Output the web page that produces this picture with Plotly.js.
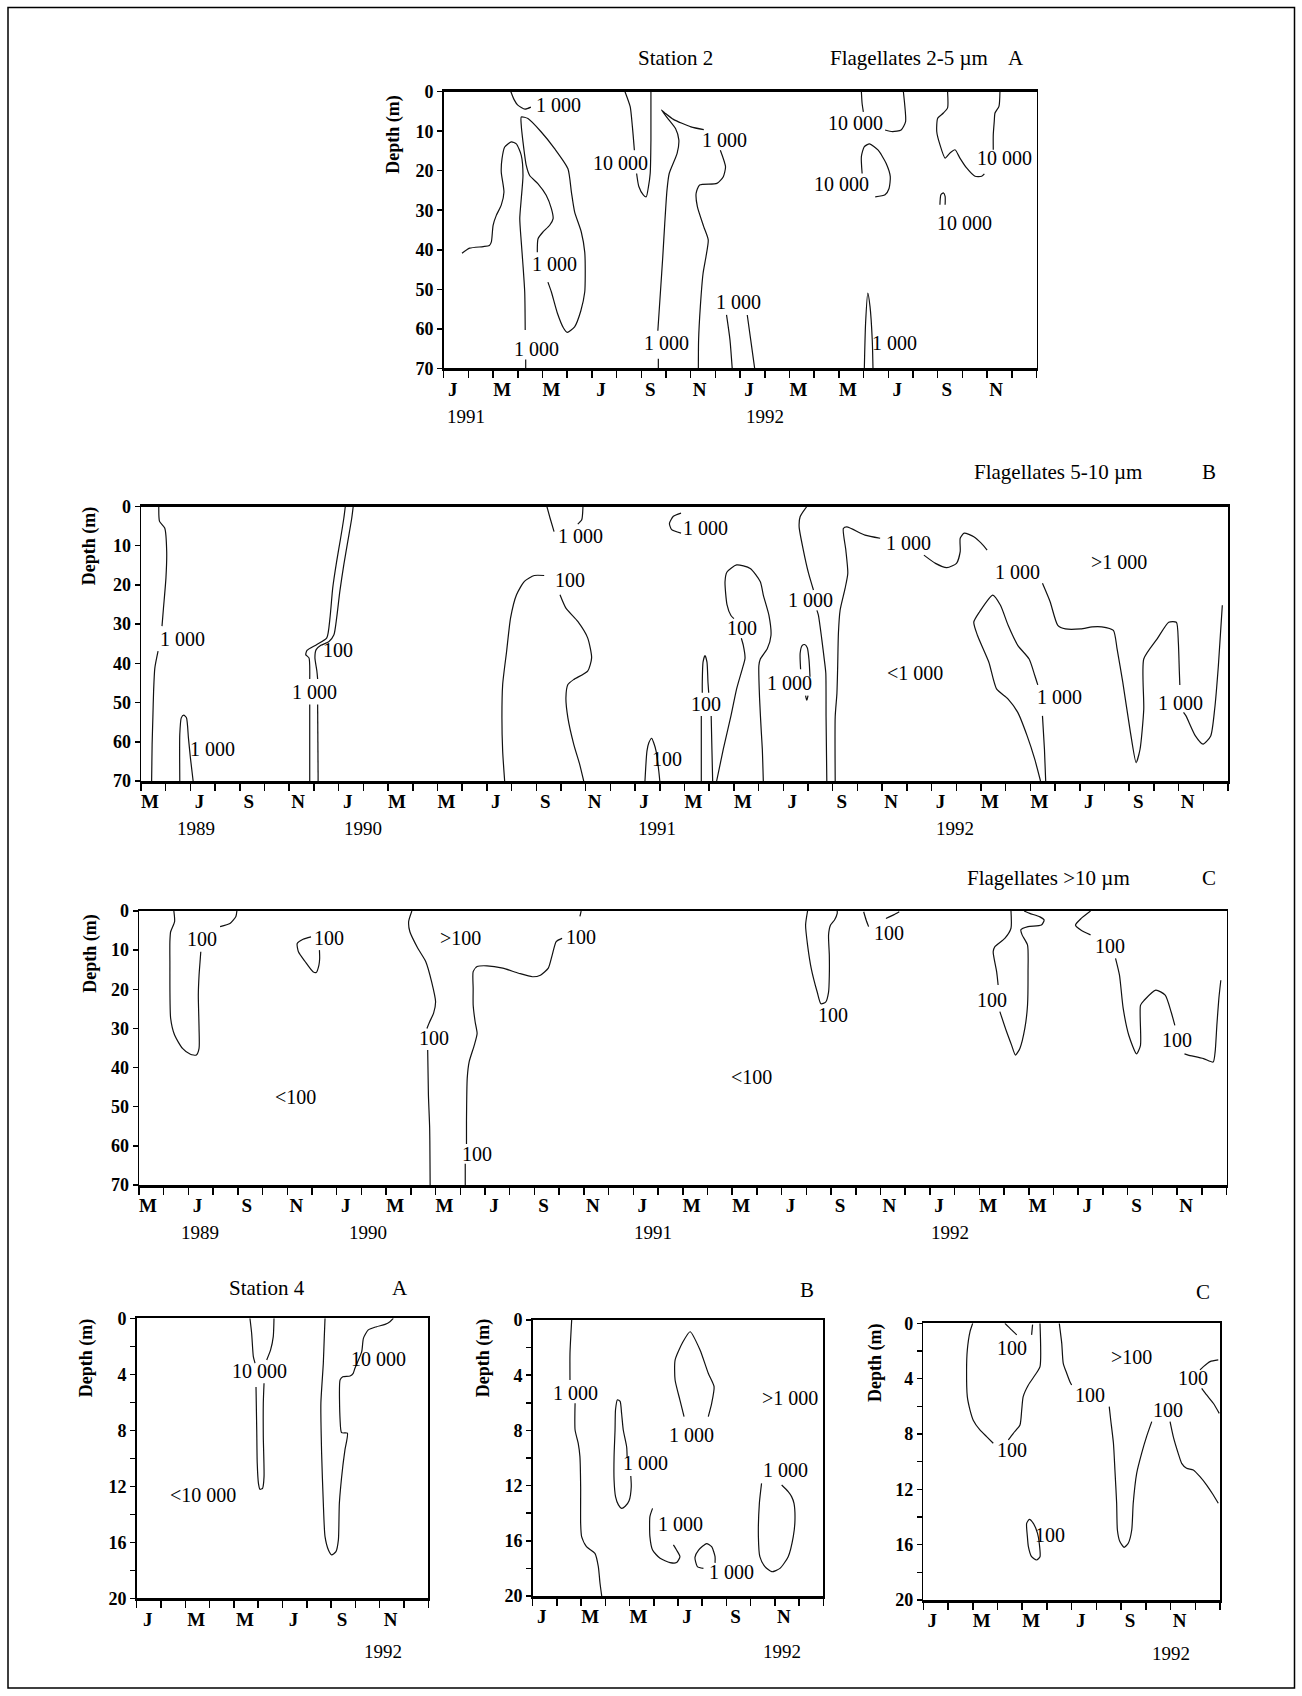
<!DOCTYPE html>
<html><head><meta charset="utf-8">
<script src="https://cdn.plot.ly/plotly-3.0.1.min.js"></script>
<style>html,body{margin:0;padding:0;background:#fff}#chart{width:1302px;height:1696px}</style>
</head><body><div id="chart"></div>
<script>
const FONT = '"Liberation Serif", "Times New Roman", Times, serif';

// ---------- tick labels ----------
const monthsA  = ['J','M','M','J','S','N','J','M','M','J','S','N'];               // Jan 1991 - Dec 1992
const monthsBC = ['M','J','S','N','J','M','M','J','S','N','J','M','M','J','S','N','J','M','M','J','S','N']; // May 1989 - Dec 1992
const months4  = ['J','M','M','J','S','N'];                                        // 1992
const depth70  = [0,10,20,30,40,50,60,70];
const depth20  = [0,2,4,6,8,10,12,14,16,18,20];
const depth20Text = ['0','','4','','8','','12','','16','','20'];

// year labels [month position, text]
const yearsA  = [[0.9,'1991'],[13.0,'1992']];
const yearsB  = [[2.24,'1989'],[8.97,'1990'],[20.9,'1991'],[32.94,'1992']];
const yearsC  = [[2.48,'1989'],[9.28,'1990'],[20.8,'1991'],[32.8,'1992']];
const years4A = [[10.15,'1992']];
const years4B = [[10.3,'1992']];
const years4C = [[10.0,'1992']];

// ---------- Station 2, flagellates 2-5 um (x: months from Jan 1991, y: depth m) ----------
const st2A_lines = [
 [[2.72,0],[2.85,2.0],[3.0,3.4],[3.29,4.4],[3.53,3.9]],
 [[0.74,40.9],[1.05,39.6],[1.6,39.2],[1.85,38.9],[1.93,38.0],[2.0,33.8],[2.13,31.3],[2.33,28.7],[2.44,25.4],[2.33,20.3],[2.36,17.0],[2.47,14.0],[2.74,12.7],[2.94,13.2],[3.14,16.1],[3.21,21.2],[3.14,27.1],[3.08,32.1],[3.14,38.0],[3.21,43.9],[3.28,50.7],[3.30,60.3]],
 [[3.32,67.8],[3.32,70]],
 [[3.79,40.6],[3.82,37.2],[4.02,35.5],[4.29,33.8],[4.43,32.1],[4.36,29.6],[4.15,26.2],[3.82,23.3],[3.48,21.2],[3.34,18.6],[3.21,12.7],[3.14,8.5],[3.14,6.4],[3.41,6.8],[3.95,10.2],[4.49,14.4],[5.03,19.5],[5.17,25.4],[5.30,30.4],[5.57,35.5],[5.71,40.6],[5.73,46.5],[5.71,50.7],[5.55,55.5],[5.3,59.5],[5.0,60.9],[4.85,59.8],[4.6,56.0],[4.36,50.7],[4.22,48.2]],
 [[7.34,0],[7.55,3.8],[7.64,8.9],[7.72,14.8]],
 [[8.39,0],[8.39,12.2],[8.36,20.7],[8.29,24.0],[8.2,26.6],[8.08,26.1],[7.9,24.0],[7.81,20.7]],
 [[8.69,70],[8.69,67.6]],
 [[8.67,60.5],[8.69,58.6],[8.78,50.2],[8.87,41.7],[8.95,33.3],[9.04,24.9],[9.13,20.7],[9.45,15.6],[9.52,12.2],[9.39,9.4],[9.1,7.0],[8.81,4.6],[9.0,5.6],[9.30,7.0],[10.01,8.9],[10.53,9.6]],
 [[11.2,14.8],[11.41,19.0],[11.32,21.5],[11.06,23.2],[10.36,23.6],[10.22,25.7],[10.27,29.1],[10.53,34.2],[10.71,37.5],[10.62,41.7],[10.5,46.0],[10.39,54.4],[10.32,62.8],[10.31,70]],
 [[11.45,56.5],[11.59,62.8],[11.68,70]],
 [[12.29,56.5],[12.43,62.8],[12.59,70]],
 [[17.03,70],[17.08,58.6],[17.17,51.0],[17.26,54.4],[17.35,62.8],[17.38,70]],
 [[16.91,0],[16.94,3.0],[16.99,5.1]],
 [[17.87,9.7],[18.17,10.1],[18.52,9.7],[18.7,7.6],[18.66,3.0],[18.61,0]],
 [[16.94,20.7],[16.91,16.4],[17.03,13.9],[17.24,13.2],[17.59,14.8],[17.91,18.1],[18.08,21.5],[18.03,24.5],[17.87,26.1],[17.47,26.6]],
 [[20.4,0],[20.4,4.1],[20.23,5.4],[20.0,6.7],[19.96,10.0],[20.09,13.4],[20.3,16.8],[20.5,15.5],[20.7,14.7],[20.9,16.8],[21.17,19.3],[21.51,21.4],[21.78,21.4],[21.89,20.8]],
 [[22.52,0],[22.48,3.7],[22.32,5.4],[22.29,7.5],[22.25,10.9],[22.25,14.7]],
 [[20.09,28.6],[20.13,26.1],[20.23,25.6],[20.3,26.5],[20.3,28.6]]
];
const st2A_labels = [
 [4.63,3.4,'1 000'],[3.77,65.2,'1 000'],[4.49,43.5,'1 000'],[7.16,18.0,'10 000'],
 [9.04,63.5,'1 000'],[11.36,12.2,'1 000'],[11.94,53.1,'1 000'],[18.26,63.5,'1 000'],
 [16.68,7.8,'10 000'],[16.12,23.4,'10 000'],[22.72,16.8,'10 000'],[21.1,33.3,'10 000']
];

// ---------- Station 2, flagellates 5-10 um (x: months from May 1989) ----------
const st2B_lines = [
 [[0.72,0],[0.75,3.8],[0.96,5.5],[1.04,11.5],[1.01,18.2],[0.91,25.9],[0.85,30.5]],
 [[0.69,36.9],[0.56,41.2],[0.51,47.1],[0.48,53.9],[0.45,60.7],[0.43,70]],
 [[1.57,70],[1.57,58.1],[1.63,53.9],[1.73,53.2],[1.84,53.9],[1.92,59.0],[2.0,64.1],[2.11,70]],
 [[8.27,0],[8.21,3.0],[8.08,8.1],[7.92,14.0],[7.76,20.8],[7.65,28.4],[7.52,33.5],[7.12,35.2],[6.72,36.7],[6.67,37.8],[6.8,38.6],[6.83,44.0]],
 [[6.83,50.5],[6.83,70]],
 [[8.59,0],[8.53,3.0],[8.37,8.9],[8.21,14.8],[8.05,21.6],[7.92,28.4],[7.81,32.7],[7.6,34.5],[7.28,35.4],[7.09,36.5],[7.04,38.6],[7.12,42.0],[7.15,44.0]],
 [[7.15,50.5],[7.17,70]],
 [[14.72,70],[14.64,62.4],[14.61,53.9],[14.64,45.4],[14.8,36.9],[14.96,28.4],[15.2,22.5],[15.52,19.1],[15.92,17.6],[16.32,17.6]],
 [[16.96,22.5],[17.2,25.9],[17.68,29.3],[18.08,33.5],[18.24,38.6],[18.08,42.0],[17.52,44.1],[17.28,45.4],[17.2,48.8],[17.28,53.9],[17.52,60.7],[17.76,65.8],[17.92,70]],
 [[16.43,0],[16.56,3.0],[16.72,6.4]],
 [[17.89,0],[17.84,3.4],[17.68,4.5]],
 [[21.86,1.7],[21.55,2.5],[21.39,4.3],[21.48,5.9],[21.86,6.8]],
 [[20.4,70],[20.48,62.4],[20.56,60.2],[20.67,59.1],[20.75,60.2],[20.85,62.4],[20.96,67.5],[21.0,70]],
 [[22.68,70],[22.68,53.4]],
 [[22.72,47.5],[22.72,44.8],[22.75,39.7],[22.83,38.0],[22.91,39.7],[22.95,44.8],[22.98,47.5]],
 [[23.08,53.4],[23.11,61.9],[23.14,70]],
 [[23.3,70],[23.57,61.9],[23.88,53.4],[24.11,46.5],[24.34,41.4],[24.45,38.7],[24.38,35.4],[24.3,33.6]],
 [[24.0,28.6],[23.88,27.8],[23.72,25.0],[23.64,19.2],[23.72,16.7],[24.11,14.9],[24.66,15.8],[25.07,19.2],[25.19,22.6],[25.42,27.8],[25.5,32.9],[25.35,36.3],[25.07,38.9],[25.01,40.6],[25.04,49.1],[25.11,57.6],[25.15,61.9],[25.19,70]],
 [[26.95,0],[26.68,2.6],[26.64,5.2],[26.81,11.1],[27.02,17.0],[27.22,21.3]],
 [[27.36,26.5],[27.42,27.7],[27.56,34.0],[27.66,39.1],[27.72,42.5],[27.73,53.6],[27.76,70]],
 [[28.1,70],[28.1,53.6],[28.17,47.6],[28.2,40.9],[28.23,32.3],[28.3,26.4],[28.5,20.9],[28.61,17.0],[28.53,11.1],[28.43,5.6],[28.57,5.2],[29.31,7.3],[29.92,8.1]],
 [[31.69,12.4],[32.16,14.5],[32.62,15.6],[33.01,14.5],[33.16,11.5],[33.16,8.1],[33.32,6.8],[33.71,7.7],[34.02,9.4],[34.25,11.1]],
 [[36.49,19.6],[36.8,24.3],[37.11,30.3],[37.42,31.2],[38.04,31.2],[38.5,30.7],[38.89,30.7],[39.36,31.6],[39.51,36.3],[39.74,44.8],[40.05,57.6],[40.28,65.3],[40.44,61.9],[40.59,51.7],[40.59,38.9],[41.14,33.7],[41.6,29.5],[41.91,29.5],[41.99,34.6],[42.03,42.0],[42.05,45.5]],
 [[42.2,52.5],[42.3,53.4],[42.68,58.5],[42.99,60.6],[43.3,58.5],[43.46,51.7],[43.61,40.6],[43.77,25.2]],
 [[36.41,70],[36.18,64.5],[35.87,58.5],[35.49,52.5],[35.1,49.1],[34.63,46.5],[34.32,39.7],[33.86,32.9],[33.71,29.5],[33.94,26.9],[34.48,22.6],[34.79,25.2],[35.1,30.3],[35.49,35.4],[35.95,38.9],[36.18,43.1],[36.3,45.5]],
 [[36.49,53.4],[36.57,61.9],[36.62,70]],
 [[26.7,41.5],[26.68,37.5],[26.76,35.5],[26.86,35.2],[26.97,36.0],[27.04,39.1],[27.08,43.4]],
 [[26.9,48.2],[26.95,49.4],[27.0,48.2]]
];
const st2B_labels = [
 [1.68,33.9,'1 000'],[2.88,61.9,'1 000'],[7.97,36.7,'100'],[7.04,47.2,'1 000'],
 [17.36,18.7,'100'],[17.81,7.6,'1 000'],[22.87,5.4,'1 000'],[21.3,64.3,'100'],
 [22.87,50.4,'100'],[24.34,30.9,'100'],[27.09,23.8,'1 000'],[26.25,45.1,'1 000'],
 [31.07,9.4,'1 000'],[35.49,16.7,'1 000'],[37.19,48.7,'1 000'],[42.08,50.0,'1 000'],
 [39.59,14.1,'&gt;1 000'],[31.31,42.4,'&lt;1 000']
];

// ---------- Station 2, flagellates >10 um (x: months from May 1989) ----------
const st2C_lines = [
 [[1.41,0],[1.44,2.7],[1.28,5.3],[1.25,7.8],[1.25,12.9],[1.28,27.4],[1.44,31.7],[1.76,35.1],[2.08,36.6],[2.32,36.8],[2.43,35.1],[2.43,30.0],[2.4,21.5],[2.43,16.4],[2.48,12.1],[2.5,10.4]],
 [[3.28,4.0],[3.68,3.2],[3.92,1.4],[3.96,0]],
 [[6.96,6.6],[6.64,7.2],[6.4,8.3],[6.45,10.4],[6.72,12.9],[7.04,15.5],[7.17,15.7],[7.28,13.8],[7.31,12.1],[7.3,10.0]],
 [[11.04,0],[10.91,2.7],[10.96,5.3],[11.28,9.5],[11.6,12.9],[11.84,18.1],[12.0,23.2],[11.92,26.1],[11.76,28.3],[11.65,30.0]],
 [[11.68,35.5],[11.71,47.0],[11.76,55.5],[11.78,70]],
 [[13.2,70],[13.2,64.6]],
 [[13.25,59.5],[13.25,53.8],[13.28,42.7],[13.36,38.5],[13.57,34.2],[13.68,31.3],[13.6,28.3],[13.52,24.0],[13.52,19.8],[13.52,15.5],[13.68,14.2],[14.08,14.0],[14.72,14.6],[15.36,15.9],[15.92,16.8],[16.24,16.4],[16.56,14.6],[16.72,11.2],[16.88,7.8],[17.12,7.0]],
 [[17.84,1.4],[17.89,0]],
 [[27.05,0],[26.97,3.6],[27.05,8.7],[27.2,14.7],[27.44,20.7],[27.59,23.7],[27.78,23.3],[27.9,20.7],[27.93,16.4],[27.93,11.3],[27.9,6.1],[27.98,3.6],[28.14,2.3],[28.25,0.6],[28.25,0]],
 [[29.32,0.2],[29.42,2.3],[29.52,4.0]],
 [[30.22,1.9],[30.53,1.0],[30.76,0.2]],
 [[35.28,0],[35.28,4.4],[35.03,7.0],[34.63,9.1],[34.56,10.4],[34.7,15.5],[34.76,18.9]],
 [[34.83,25.7],[35.1,30.8],[35.3,34.2],[35.46,36.8],[35.64,35.1],[35.84,30.0],[35.95,24.0],[35.97,15.5],[35.95,8.7],[35.73,6.1],[35.68,4.8],[35.97,4.0],[36.51,3.6],[36.62,2.3],[36.45,1.5],[36.04,0.6],[35.81,0]],
 [[38.5,0],[38.12,1.9],[37.89,3.6],[38.12,4.9],[38.5,6.1]],
 [[39.51,12.1],[39.67,16.4],[39.82,24.9],[40.05,31.8],[40.36,36.5],[40.52,34.3],[40.52,24.1],[40.67,22.8],[41.14,20.2],[41.52,21.5],[41.76,25.8],[41.91,29.2]],
 [[42.3,36.5],[42.45,36.8],[43.07,37.7],[43.46,38.6],[43.54,36.0],[43.61,29.2],[43.69,22.4],[43.77,17.7]]
];
const st2C_labels = [
 [2.53,7.2,'100'],[7.68,6.8,'100'],[11.92,32.4,'100'],[13.68,62.2,'100'],[17.89,6.6,'100'],
 [12.99,7.0,'&gt;100'],[6.32,47.4,'&lt;100'],[28.06,26.6,'100'],[30.33,5.5,'100'],
 [34.5,22.8,'100'],[39.28,8.9,'100'],[41.99,33.0,'100'],[24.8,42.4,'&lt;100']
];

// ---------- Station 4 (x: months from Jan 1992, y: depth m) ----------
const st4A_lines = [
 [[4.66,0],[4.73,1.07],[4.8,2.74],[4.87,3.2]],
 [[4.91,4.9],[4.94,7.98],[4.96,10.36],[5.01,11.79],[5.07,12.21],[5.18,12.14],[5.24,11.31],[5.21,8.45],[5.21,6.07],[5.24,4.64]],
 [[5.35,2.98],[5.51,2.26],[5.62,1.31],[5.65,0]],
 [[7.75,0],[7.72,1.31],[7.68,3.21],[7.58,6.07],[7.61,9.64],[7.68,13.21],[7.75,15.6],[7.89,16.55],[8.02,16.9],[8.2,16.67],[8.3,15.83],[8.34,13.21],[8.48,10.6],[8.57,9.4],[8.67,8.21],[8.43,8.17],[8.37,7.26],[8.37,4.4],[8.48,4.17],[8.78,4.12],[8.91,3.93],[8.98,3.57],[9.26,2.38],[9.33,1.43],[9.53,0.83],[9.87,0.6],[10.22,0.43],[10.42,0.24],[10.56,0]]
];
const st4A_labels = [[5.07,3.74,'10 000'],[9.95,2.9,'10 000'],[2.74,12.62,'&lt;10 000']];

const st4B_lines = [
 [[1.61,0],[1.54,2.42],[1.54,4.35]],
 [[1.75,6.04],[1.75,7.97],[1.88,8.94],[1.95,9.9],[1.98,12.08],[1.98,14.73],[2.02,15.7],[2.22,16.43],[2.57,16.91],[2.71,17.87],[2.78,19.08],[2.85,20]],
 [[4.05,11.3],[4.07,12.08],[3.98,13.1],[3.82,13.5],[3.67,13.65],[3.54,13.4],[3.42,12.8],[3.36,11.6],[3.36,9.9],[3.4,7.97],[3.42,6.5],[3.5,5.78],[3.61,5.9],[3.67,6.76],[3.74,7.97],[3.88,9.2],[3.9,10.0]],
 [[6.25,7.0],[6.08,5.8],[5.88,4.35],[5.88,2.9],[6.2,1.6],[6.5,0.85],[6.91,2.17],[7.25,3.86],[7.49,4.83],[7.39,6.04],[7.25,7.0]],
 [[4.95,13.65],[4.84,14.25],[4.84,15.7],[4.95,16.67],[5.26,17.27],[5.67,17.58],[5.94,17.58],[6.08,17.15],[5.94,16.67],[5.81,16.3]],
 [[7.05,18.0],[6.8,17.87],[6.7,17.2],[6.85,16.67],[7.18,16.2],[7.39,16.43],[7.53,17.15],[7.53,17.6]],
 [[9.45,11.84],[9.36,13.29],[9.32,15.7],[9.38,17.15],[9.59,17.87],[9.87,18.24],[10.21,18.0],[10.55,17.15],[10.76,15.7],[10.83,14.49],[10.79,13.29],[10.69,12.8],[10.55,12.44],[10.28,11.96]]
];
const st4B_labels = [[1.75,5.31,'1 000'],[4.64,10.34,'1 000'],[6.56,8.33,'1 000'],[6.11,14.78,'1 000'],[8.22,18.24,'1 000'],[10.42,10.87,'1 000'],[10.62,5.68,'&gt;1 000']];

const st4C_lines = [
 [[2.0,0],[1.89,0.6],[1.78,1.93],[1.75,3.37],[1.78,5.3],[1.89,6.27],[2.02,7.0],[2.29,7.71],[2.56,8.19],[2.83,8.67]],
 [[3.44,8.43],[3.64,7.95],[3.91,7.35],[3.98,6.27],[4.04,5.3],[4.25,4.46],[4.52,3.74],[4.72,3.13],[4.72,0]],
 [[3.3,0],[3.57,0.48],[3.78,0.84]],
 [[4.38,0.84],[4.42,0.1]],
 [[5.5,0],[5.6,1.45],[5.66,2.89],[5.8,3.61],[5.93,4.22],[6.0,4.46]],
 [[7.52,6.02],[7.58,6.99],[7.69,8.67],[7.75,10.6],[7.82,13.01],[7.85,14.94],[7.95,15.78],[8.12,16.19],[8.29,15.9],[8.43,14.94],[8.49,13.01],[8.63,10.84],[8.83,9.4],[9.03,8.19],[9.24,7.11]],
 [[9.98,7.11],[10.11,8.19],[10.31,9.4],[10.45,10.12],[10.65,10.48],[10.92,10.6],[11.19,11.08],[11.46,11.69],[11.73,12.41],[11.93,13.01]],
 [[11.93,2.65],[11.6,2.77],[11.33,3.13],[11.19,3.37]],
 [[11.26,4.7],[11.46,5.18],[11.73,5.78],[11.97,6.51]],
 [[4.29,14.17],[4.18,14.46],[4.21,15.42],[4.25,16.14],[4.38,16.87],[4.58,17.11],[4.72,16.87],[4.69,15.9],[4.62,15.18],[4.45,14.46],[4.29,14.17]]
];
const st4C_labels = [[3.57,9.16,'100'],[3.57,1.81,'100'],[6.74,5.18,'100'],[9.91,6.27,'100'],[10.92,3.98,'100'],[5.12,15.3,'100'],[8.43,2.46,'&gt;100']];

// ---------- layout helpers ----------
const W = 1302, H = 1696;
const px = v => v / W, py = v => 1 - v / H;

function xAxis(x0, x1, n, labels, shift, anchor) {
  const vals = [], text = [];
  for (let i = 0; i <= n; i++) { vals.push(i); text.push(i % 2 === 0 && i / 2 < labels.length ? labels[i / 2] : ''); }
  return { domain: [px(x0), px(x1)], anchor, range: [0, n], tickmode: 'array', tickvals: vals, ticktext: text,
    ticks: 'outside', ticklen: 7, tickwidth: 1.5, tickcolor: '#000', showline: true, linewidth: 2.5, linecolor: '#000',
    mirror: true, showgrid: false, zeroline: false, ticklabelshift: shift, ticklabelstandoff: -5, fixedrange: true,
    tickfont: { family: FONT, size: 19, color: '#000', weight: 'bold' } };
}
function yAxis(top, bottom, max, vals, text, anchor) {
  return { domain: [py(bottom), py(top)], anchor, range: [max, 0], tickmode: 'array', tickvals: vals, ticktext: text,
    ticks: 'outside', ticklen: 5, tickwidth: 1.5, tickcolor: '#000', showline: true, linewidth: 1.5, linecolor: '#000',
    mirror: true, showgrid: false, zeroline: false, fixedrange: true,
    tickfont: { family: FONT, size: 18, color: '#000', weight: 'bold' } };
}

const layout = {
  width: W, height: H, margin: { l: 0, r: 0, t: 0, b: 0 }, paper_bgcolor: '#fff', plot_bgcolor: '#fff',
  showlegend: false, font: { family: FONT, color: '#000' },
  xaxis:  xAxis(443.7, 1036.5, 24, monthsA, 9, 'y'),
  yaxis:  yAxis(91.7, 368.3, 70, depth70, depth70.map(String), 'x'),
  xaxis2: xAxis(141, 1228, 44, monthsBC, 9, 'y2'),
  yaxis2: yAxis(506.5, 781, 70, depth70, depth70.map(String), 'x2'),
  xaxis3: xAxis(139, 1226.5, 44, monthsBC, 9, 'y3'),
  yaxis3: yAxis(911, 1185, 70, depth70, depth70.map(String), 'x3'),
  xaxis4: xAxis(136.7, 428.3, 12, months4, 11, 'y4'),
  yaxis4: yAxis(1318.3, 1598.3, 20, depth20, depth20Text, 'x4'),
  xaxis5: xAxis(532.7, 823.3, 12, months4, 9, 'y5'),
  yaxis5: yAxis(1320, 1596, 20, depth20, depth20Text, 'x5'),
  xaxis6: xAxis(923.3, 1220, 12, months4, 9, 'y6'),
  yaxis6: yAxis(1323.3, 1600, 20, depth20, depth20Text, 'x6'),
  annotations: [],
  shapes: [{ type: 'rect', xref: 'paper', yref: 'paper', x0: px(8), x1: px(1294.5), y0: py(1688), y1: py(7.6),
    line: { color: '#000', width: 1.5 } }]
};

const panels = [
  { lines: st2A_lines, labels: st2A_labels, years: yearsA,  xa: 'x',  ya: 'y',  yearY: 416.7,  depthX: 393.8, depthY: 134 },
  { lines: st2B_lines, labels: st2B_labels, years: yearsB,  xa: 'x2', ya: 'y2', yearY: 828.3,  depthX: 89.7,  depthY: 545.6 },
  { lines: st2C_lines, labels: st2C_labels, years: yearsC,  xa: 'x3', ya: 'y3', yearY: 1232.7, depthX: 89.7,  depthY: 953 },
  { lines: st4A_lines, labels: st4A_labels, years: years4A, xa: 'x4', ya: 'y4', yearY: 1651.7, depthX: 86.7,  depthY: 1357.5 },
  { lines: st4B_lines, labels: st4B_labels, years: years4B, xa: 'x5', ya: 'y5', yearY: 1651.7, depthX: 483.3, depthY: 1358 },
  { lines: st4C_lines, labels: st4C_labels, years: years4C, xa: 'x6', ya: 'y6', yearY: 1653,   depthX: 875,   depthY: 1363 }
];

const C = { xanchor: 'center', yanchor: 'middle', showarrow: false };
const traces = [];
panels.forEach(p => {
  p.lines.forEach(seg => traces.push({
    type: 'scatter', mode: 'lines', x: seg.map(d => d[0]), y: seg.map(d => d[1]),
    xaxis: p.xa, yaxis: p.ya, hoverinfo: 'skip', showlegend: false,
    line: { color: '#111', width: 1.2, shape: 'spline', smoothing: 0.6 }
  }));
  p.labels.forEach(l => layout.annotations.push(Object.assign({
    xref: p.xa, yref: p.ya, x: l[0], y: l[1], text: l[2],
    font: { family: FONT, size: 20, color: '#000' }
  }, C)));
  p.years.forEach(yv => layout.annotations.push(Object.assign({
    xref: p.xa, yref: 'paper', x: yv[0], y: py(p.yearY), text: yv[1],
    font: { family: FONT, size: 19, color: '#000' }
  }, C)));
  layout.annotations.push(Object.assign({
    xref: 'paper', yref: 'paper', x: px(p.depthX), y: py(p.depthY), text: 'Depth (m)', textangle: -90,
    font: { family: FONT, size: 18, color: '#000', weight: 'bold' }
  }, C));
});

// panel titles
const titles = [
  ['Station 2', 675.7, 58.3], ['Flagellates 2-5 µm', 908.8, 58.3], ['A', 1016, 58.3],
  ['Flagellates 5-10 µm', 1057.5, 471.7], ['B', 1209, 471.7],
  ['Flagellates &gt;10 µm', 1048.7, 878.3], ['C', 1209, 878.3],
  ['Station 4', 266.7, 1288.3], ['A', 400, 1288.3], ['B', 806.7, 1290], ['C', 1203.3, 1291.7]
];
titles.forEach(t => layout.annotations.push(Object.assign({
  xref: 'paper', yref: 'paper', x: px(t[1]), y: py(t[2]), text: t[0],
  font: { family: FONT, size: 21, color: '#000' }
}, C)));

Plotly.newPlot('chart', traces, layout, { staticPlot: true, displayModeBar: false });
</script>
</body></html>
